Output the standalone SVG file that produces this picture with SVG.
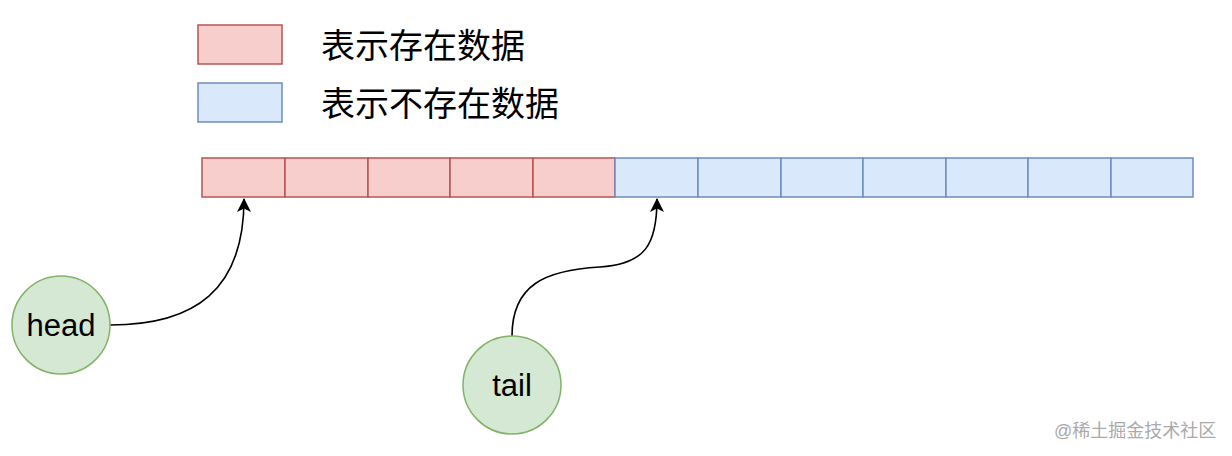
<svg xmlns="http://www.w3.org/2000/svg" width="1232" height="456" viewBox="0 0 1232 456">
<style>
.red{fill:#f8cecc;stroke:#b85450;stroke-width:1.5}
.blue{fill:#dae8fc;stroke:#6c8ebf;stroke-width:1.5}
.green{fill:#d5e8d4;stroke:#82b366;stroke-width:1.5}
.lbl{font-family:"Liberation Sans","Noto Sans CJK SC",sans-serif;font-size:34px;fill:#000}
.node{font-family:"Liberation Sans",Arial,sans-serif;font-size:31px;fill:#000;text-anchor:middle}
.wm{font-family:"Liberation Sans","Noto Sans CJK SC",sans-serif;font-size:18px;fill:#aaaaaa}
.conn{fill:none;stroke:#000;stroke-width:1.6}
</style>
<defs>
<marker id="arr" viewBox="0 0 14 14" refX="13" refY="7" markerWidth="14" markerHeight="14" markerUnits="userSpaceOnUse" orient="auto">
<path d="M0,0 L14,7 L0,14 L3.5,7 Z" fill="#000"/>
</marker>
</defs>
<rect width="1232" height="456" fill="#fff"/>
<g id="legend">
<rect class="red" x="198" y="25" width="84" height="39"/>
<text class="lbl" x="321" y="58">表示存在数据</text>
<rect class="blue" x="198" y="83" width="84" height="39"/>
<text class="lbl" x="321" y="116">表示不存在数据</text>
</g>
<g id="array">
<rect class="red" x="202" y="158" width="83" height="39"/>
<rect class="red" x="285" y="158" width="83" height="39"/>
<rect class="red" x="368" y="158" width="82" height="39"/>
<rect class="red" x="450" y="158" width="83" height="39"/>
<rect class="red" x="533" y="158" width="82" height="39"/>
<rect class="blue" x="615" y="158" width="83" height="39"/>
<rect class="blue" x="698" y="158" width="83" height="39"/>
<rect class="blue" x="781" y="158" width="82" height="39"/>
<rect class="blue" x="863" y="158" width="83" height="39"/>
<rect class="blue" x="946" y="158" width="82" height="39"/>
<rect class="blue" x="1028" y="158" width="83" height="39"/>
<rect class="blue" x="1111" y="158" width="82" height="39"/>
</g>
<g id="connectors">
<path class="conn" marker-end="url(#arr)" d="M110,325 C195,325 244,290 244,199"/>
<path class="conn" marker-end="url(#arr)" d="M512,336 C512,285 545,270 600,267 C645,264 657,245 657,199"/>
</g>
<g id="head">
<circle class="green" cx="61" cy="325" r="49"/>
<text class="node" x="61" y="336">head</text>
</g>
<g id="tail">
<circle class="green" cx="512" cy="385" r="49"/>
<text class="node" x="512" y="396">tail</text>
</g>
<text class="wm" x="1054" y="437">@稀土掘金技术社区</text>
</svg>
